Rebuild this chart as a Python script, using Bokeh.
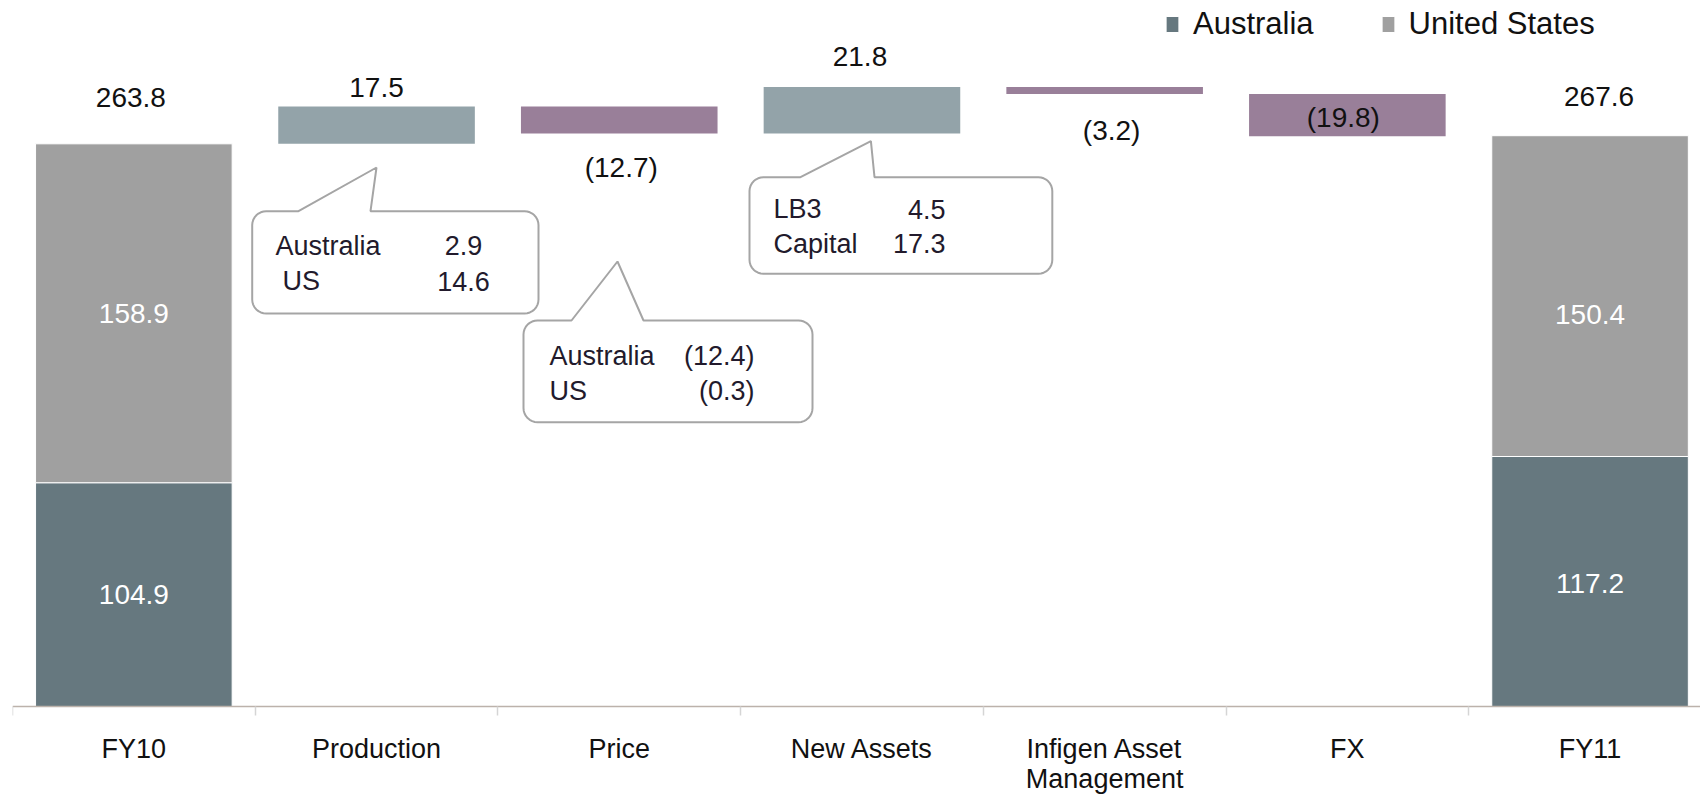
import math
from bokeh.plotting import figure
from bokeh.models import Range1d, LinearAxis, FixedTicker, Legend, LegendItem
from bokeh.core.properties import value
from bokeh.embed import file_html
from bokeh.resources import INLINE

# ---------------- data ----------------
categories = ["FY10", "Production", "Price", "New Assets", "Infigen Asset\nManagement", "FX", "FY11"]
series_names = ["Australia", "United States"]
opening_australia = 104.9
opening_us = 158.9
closing_australia = 117.2
closing_us = 150.4
step_changes = [17.5, -12.7, 21.8, -3.2, -19.8]

callout_production_names = ["Australia", "US"]
callout_production_values = ["2.9", "14.6"]
callout_price_names = ["Australia", "US"]
callout_price_values = ["(12.4)", "(0.3)"]
callout_new_assets_names = ["LB3", "Capital"]
callout_new_assets_values = ["4.5", "17.3"]

# ---------------- style / layout ----------------
FONT = "Liberation Sans"
AUS_COLOR = "#66787f"
US_COLOR = "#a0a0a0"
UP_COLOR = "#93a3a9"
DOWN_COLOR = "#997f99"
TEXT_COLOR = "#111111"
CALLOUT_TEXT = "#221a2c"
CALLOUT_LINE = "#a5a5a5"
VAL_FS = "28px"
CALL_FS = "27px"

W, H = 1700, 796
B_LEFT = 12
CAT_PX = 242.7          # pixels per category
K = 2.133               # pixels per unit
FRAME_W = W - B_LEFT
BASE_Y = 706            # canvas y of the zero line
BAR_W = 0.81

def to_data(px, py):
    return (-0.5 + (px - B_LEFT) / CAT_PX, (BASE_Y - py) / K)

def fmt(v):
    return f"({abs(v):.1f})" if v < 0 else f"{v:.1f}"

p = figure(width=W, height=H, output_backend="svg", toolbar_location=None,
           x_range=Range1d(-0.5, -0.5 + FRAME_W / CAT_PX),
           y_range=Range1d((BASE_Y - H) / K, BASE_Y / K),
           x_axis_type=None, y_axis_type=None,
           min_border_left=B_LEFT, min_border_right=0, min_border_top=0,
           min_border_bottom=0,
           outline_line_color=None, background_fill_color="white",
           border_fill_color="white")

n = len(categories)
idx = list(range(n))

# ---- stacked totals ----
tot_x = [0, n - 1]
aus = [opening_australia, closing_australia]
us = [opening_us, closing_us]
tot = [a + u for a, u in zip(aus, us)]
r_aus = p.vbar(x=tot_x, bottom=0, top=aus, width=BAR_W, fill_color=AUS_COLOR,
               line_color="white", line_width=1)
r_us = p.vbar(x=tot_x, bottom=aus, top=tot, width=BAR_W, fill_color=US_COLOR,
              line_color="white", line_width=1)

# ---- floating steps ----
running = tot[0]
st_x, st_bot, st_top, st_col = [], [], [], []
for i, c in enumerate(step_changes):
    start, end = running, running + c
    st_x.append(i + 1)
    st_bot.append(min(start, end))
    st_top.append(max(start, end))
    st_col.append(UP_COLOR if c >= 0 else DOWN_COLOR)
    running = end
p.vbar(x=st_x, bottom=st_bot, top=st_top, width=BAR_W, fill_color=st_col, line_color=None)

# ---- callouts ----
def callout(left, top, right, bottom, r, base1, base2, apex):
    pts = [(left + r, top), (base1, top), apex, (base2, top), (right - r, top)]
    def arc(cx, cy, a0, a1):
        for j in range(1, 9):
            a = math.radians(a0 + (a1 - a0) * j / 8)
            pts.append((cx + r * math.cos(a), cy + r * math.sin(a)))
    arc(right - r, top + r, -90, 0)
    pts.append((right, bottom - r))
    arc(right - r, bottom - r, 0, 90)
    pts.append((left + r, bottom))
    arc(left + r, bottom - r, 90, 180)
    pts.append((left, top + r))
    arc(left + r, top + r, 180, 270)
    d = [to_data(x, y) for x, y in pts]
    p.patch([q[0] for q in d], [q[1] for q in d], fill_color="white",
            line_color=CALLOUT_LINE, line_width=2)

def callout_text(names, vals, name_x, val_x, val_align, ys):
    nx, ny, vx, vy = [], [], [], []
    for nxp, yp in zip(name_x, ys):
        a, b = to_data(nxp, yp)
        nx.append(a); ny.append(b)
        c, d = to_data(val_x, yp)
        vx.append(c); vy.append(d)
    p.text(x=nx, y=ny, text=names, text_font=value(FONT), text_font_size=CALL_FS,
           text_color=CALLOUT_TEXT, text_align="left", text_baseline="middle")
    p.text(x=vx, y=vy, text=vals, text_font=value(FONT), text_font_size=CALL_FS,
           text_color=CALLOUT_TEXT, text_align=val_align, text_baseline="middle")

callout(251.7, 210.7, 538, 313, 14, 298, 370, (376, 167))
callout_text(callout_production_names, callout_production_values,
             [275, 282], 463, "center", [245, 280.5])
callout(523, 320, 812, 421.7, 14, 571, 643, (617, 261))
callout_text(callout_price_names, callout_price_values,
             [549, 549], 754, "right", [355, 390])
callout(749, 176.7, 1051.8, 273.3, 14, 800, 874, (870.4, 140.7))
callout_text(callout_new_assets_names, callout_new_assets_values,
             [773, 773], 945, "right", [208.5, 243])

# ---- value labels ----
lab_x, lab_y, lab_t = [], [], []
tot_dy = [-46, -39]
tot_dx = [-3, 9]
for j in range(2):
    lab_x.append(tot_x[j] + tot_dx[j] / CAT_PX)
    lab_y.append(tot[j] - tot_dy[j] / K)
    lab_t.append(fmt(tot[j]))
step_anchor = ["top", "bottom", "top", "bottom", "middle"]
step_dy = [-18.5, 33.5, -31, 36.5, 2.5]
step_dx = [0, 2, -2, 7, -4]
for j, c in enumerate(step_changes):
    a = {"top": st_top[j], "bottom": st_bot[j], "middle": (st_top[j] + st_bot[j]) / 2}[step_anchor[j]]
    lab_x.append(st_x[j] + step_dx[j] / CAT_PX)
    lab_y.append(a - step_dy[j] / K)
    lab_t.append(fmt(c))
p.text(x=lab_x, y=lab_y, text=lab_t, text_font=value(FONT), text_font_size=VAL_FS,
       text_color=TEXT_COLOR, text_align="center", text_baseline="middle")

in_x, in_y, in_t = [], [], []
in_dy = [[0, 0], [1.5, 18.5]]
for j in range(2):
    in_x += [tot_x[j], tot_x[j]]
    in_y += [aus[j] / 2 - in_dy[j][0] / K, aus[j] + us[j] / 2 - in_dy[j][1] / K]
    in_t += [fmt(aus[j]), fmt(us[j])]
p.text(x=in_x, y=in_y, text=in_t, text_font=value(FONT), text_font_size=VAL_FS,
       text_color="white", text_align="center", text_baseline="middle")

# ---- legend ----
legend = Legend(items=[LegendItem(label=series_names[0], renderers=[r_aus]),
                       LegendItem(label=series_names[1], renderers=[r_us])],
                orientation="horizontal", location=(1152, H - 41.5),
                glyph_width=16, glyph_height=20, label_standoff=13, spacing=66,
                padding=0, margin=0, label_text_font=FONT, label_text_font_size="31px",
                label_text_color=TEXT_COLOR, background_fill_alpha=0, border_line_alpha=0)
p.add_layout(legend)

# ---- category axis (pinned at zero) ----
xaxis = LinearAxis(ticker=FixedTicker(ticks=idx, minor_ticks=[i - 0.5 for i in range(n + 1)]),
                   fixed_location=0,
                   major_label_overrides={i: c for i, c in enumerate(categories)},
                   axis_line_color="#bcb2ab", axis_line_width=1.5,
                   major_tick_line_color=None, major_tick_in=0, major_tick_out=0,
                   minor_tick_line_color="#d5d5d5", minor_tick_in=0, minor_tick_out=9,
                   minor_tick_line_width=1.5,
                   major_label_text_font=FONT, major_label_text_font_size="27px",
                   major_label_text_line_height=1.0,
                   major_label_text_color=TEXT_COLOR, major_label_standoff=18)
p.add_layout(xaxis, "below")

open("out.html", "w").write(file_html(p, INLINE))
